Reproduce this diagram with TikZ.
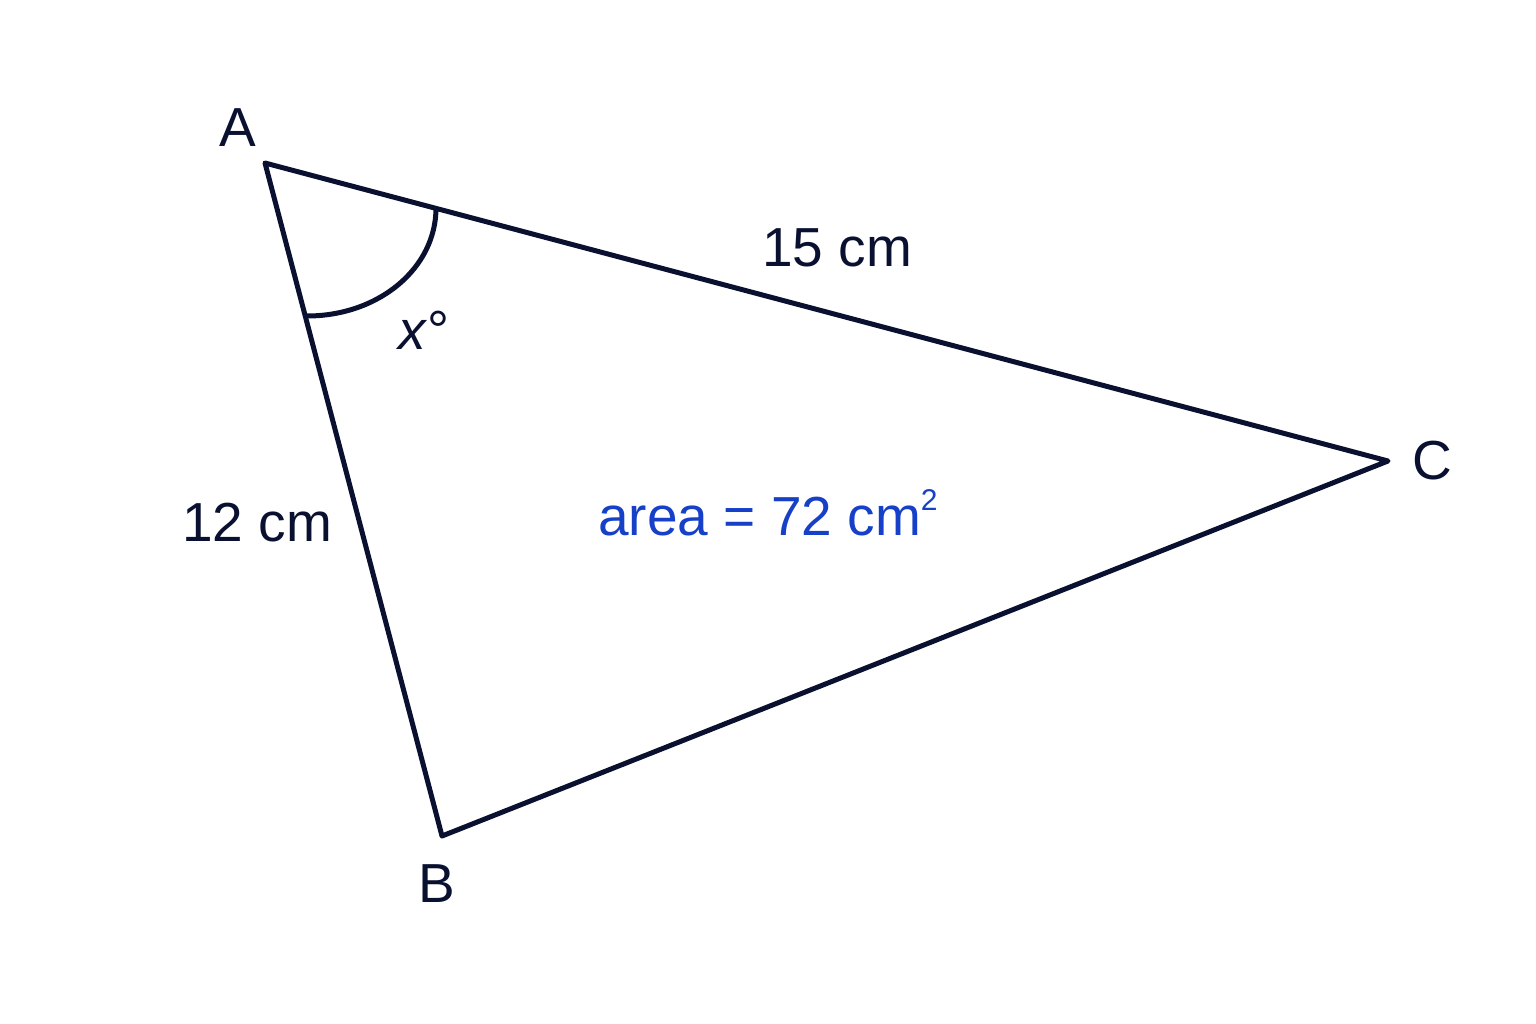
\documentclass[tikz,border=0pt]{standalone}
\usepackage{fontspec}
\setmainfont{Liberation Sans}
\usetikzlibrary{calc}
\definecolor{navy}{RGB}{10,16,48}
\definecolor{areablue}{RGB}{22,64,200}

\begin{document}
\begin{tikzpicture}[x=1pt, y=-1pt, line width=5pt, line join=round,
  lbl/.style={font=\fontsize{55}{60}\selectfont, text=navy, inner sep=0pt}]
\useasboundingbox (0,0) rectangle (1536,1024);
\coordinate (A) at (265,163); \coordinate (B) at (442,836); \coordinate (C) at (1388,461);
\draw[navy] (A)--(B)--(C)--cycle;

% angle mark at A
\coordinate (p) at (307,316); \coordinate (q) at (436,208);
\draw[navy] (p) .. controls (379,316) and (436,268) .. (q);

\node[lbl] (a) at (238,128) {A};
\node[lbl] (b) at (437,884) {B};
\node[lbl] (c) at (1432,461) {C};
\node[lbl] (ac) at (837,248) {15 cm};
\node[lbl] (ab) at (257,523) {12 cm};
\node[lbl] (x) at (424,330) {\textit{x}°};
\node[lbl, text=areablue] (area) at (768,513) {area = 72 cm\raisebox{0.85ex}{\fontsize{30}{30}\selectfont 2}};
\end{tikzpicture}
\end{document}
